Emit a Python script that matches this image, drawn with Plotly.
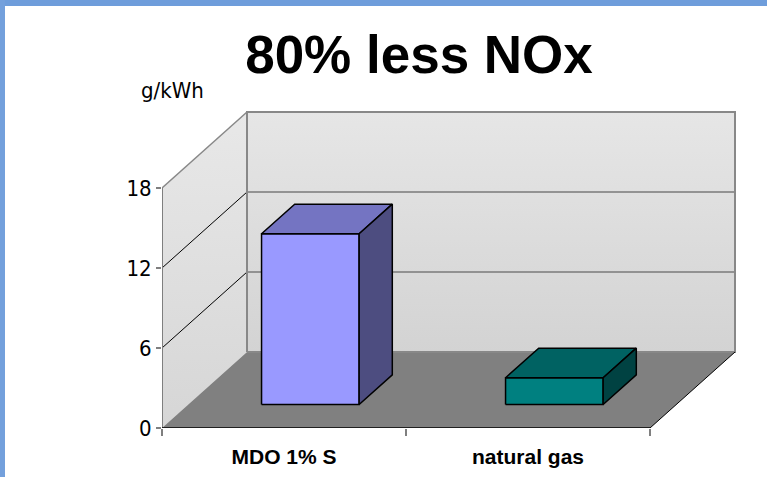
import plotly.graph_objects as go

# --- data -------------------------------------------------------------
categories = ["MDO 1% S", "natural gas"]
nox_g_per_kwh = [12.8, 2.0]
y_ticks = [0, 6, 12, 18]
y_max = 18
unit_label = "g/kWh"
title_text = "80% less NOx"

# --- styling ----------------------------------------------------------
face_colors = [
    {"front": "#9999FF", "top": "#7474C2", "side": "#4D4D80"},
    {"front": "#008080", "top": "#006262", "side": "#004242"},
]
SANS = "Liberation Sans, Arial, sans-serif"
NARROW = "DejaVu Sans Condensed, Liberation Sans, sans-serif"
W, H = 767, 477
M_L, M_R, M_T, M_B = 162, 27, 105, 49
PX_PER_CAT = 244.0          # width of one category band
PX_PER_UNIT = 80.0 / 6.0    # vertical scale
DEPTH_PX = (85.0, 76.0)     # oblique depth offset of the walls

plot_w = W - M_L - M_R
plot_h = H - M_T - M_B
x_range = [0, plot_w / PX_PER_CAT]
y_range = [0, plot_h / PX_PER_UNIT]
DX = DEPTH_PX[0] / PX_PER_CAT
DY = DEPTH_PX[1] / PX_PER_UNIT
n = len(categories)

fig = go.Figure()


def poly(xs, ys, fill=None, line_color="rgba(0,0,0,0)", width=0, gradient=None):
    kw = {}
    if gradient is not None:
        kw["fillgradient"] = gradient
    elif fill is not None:
        kw["fillcolor"] = fill
    fig.add_trace(go.Scatter(
        x=list(xs) + [xs[0]], y=list(ys) + [ys[0]], mode="lines",
        fill="toself" if (fill or gradient) else None,
        line=dict(color=line_color, width=width),
        hoverinfo="skip", showlegend=False, **kw))


def seg(x0, y0, x1, y1, color, width):
    fig.add_trace(go.Scatter(x=[x0, x1], y=[y0, y1], mode="lines",
                             line=dict(color=color, width=width),
                             hoverinfo="skip", showlegend=False))


# back wall
poly([DX, n + DX, n + DX, DX], [DY, DY, y_max + DY, y_max + DY],
     gradient=dict(type="vertical",
                   colorscale=[[0, "#d3d3d3"], [1, "#e6e6e6"]]))
# side wall
poly([0, DX, DX, 0], [0, DY, y_max + DY, y_max],
     gradient=dict(type="vertical",
                   colorscale=[[0, "#d6d6d6"], [1, "#e8e8e8"]]))
# floor
poly([0, n, n + DX, DX], [0, 0, DY, DY], fill="#808080")

# gridlines on both walls
for v in y_ticks[1:-1]:
    seg(DX, v + DY, n + DX, v + DY, "#7a7a7a", 1.5)
    seg(0, v, DX, v + DY, "#000000", 1)

# wall outlines
seg(DX, DY, n + DX, DY, "#bdbdbd", 1.5)
poly([DX, n + DX, n + DX, DX], [DY, DY, y_max + DY, y_max + DY],
     line_color="#888888", width=2)
seg(0, 0, 0, y_max, "#7f7f7f", 2)
seg(0, y_max, DX, y_max + DY, "#888888", 1.5)
seg(n, 0, n + DX, DY, "#000000", 1)
seg(0, 0, n, 0, "#000000", 1.5)

# 3-D columns
half_w = 0.2
f0, f1 = 0.31, 0.70
ddx, ddy = (f1 - f0) * DX, (f1 - f0) * DY
for i, (val, col) in enumerate(zip(nox_g_per_kwh, face_colors)):
    c = i + 0.5
    x0, x1 = c - half_w + f0 * DX, c + half_w + f0 * DX
    yb, yt = f0 * DY, val + f0 * DY
    poly([x0, x1, x1, x0], [yb, yb, yt, yt], fill=col["front"],
         line_color="#000000", width=1.5)
    poly([x0, x1, x1 + ddx, x0 + ddx], [yt, yt, yt + ddy, yt + ddy],
         fill=col["top"], line_color="#000000", width=1.5)
    poly([x1, x1 + ddx, x1 + ddx, x1], [yb, yb + ddy, yt + ddy, yt],
         fill=col["side"], line_color="#000000", width=1.5)

fig.update_layout(
    width=W, height=H,
    margin=dict(l=M_L, r=M_R, t=M_T, b=M_B, autoexpand=False),
    paper_bgcolor="white", plot_bgcolor="white",
    font=dict(family=SANS, color="#000000"),
    title=dict(text=f"<b>{title_text}</b>", x=419 / W, xanchor="center",
               y=1 - 54 / H, yanchor="middle", automargin=False,
               font=dict(size=53, family=SANS)),
    xaxis=dict(range=x_range, showgrid=False, zeroline=False, showline=False,
               automargin=False,
               tickvals=[i + 0.5 for i in range(n)],
               ticktext=[f"<b>{c}</b>" for c in categories],
               ticks="", ticklabelstandoff=14,
               tickfont=dict(size=21, family=SANS),
               minor=dict(tickvals=list(range(n + 1)), ticks="outside",
                          ticklen=7, tickcolor="#7f7f7f", tickwidth=1.5,
                          showgrid=False)),
    yaxis=dict(range=y_range, showgrid=False, zeroline=False, showline=False,
               automargin=False,
               tickvals=y_ticks, ticks="outside", ticklen=5,
               tickcolor="#7f7f7f", tickwidth=1.5,
               tickfont=dict(size=22, family=NARROW)),
    annotations=[dict(text=unit_label, xref="paper", yref="paper",
                      x=(172 - M_L) / plot_w, y=(H - M_B - 91) / plot_h,
                      xanchor="center", yanchor="middle", showarrow=False,
                      font=dict(size=22, family=NARROW))],
    shapes=[
        dict(type="rect", xref="paper", yref="paper", layer="above",
             x0=-M_L / plot_w, x1=(W - M_L) / plot_w,
             y0=(H - M_B - 6) / plot_h, y1=(H - M_B + 5) / plot_h,
             fillcolor="#6e9ddb", line=dict(width=0)),
        dict(type="rect", xref="paper", yref="paper", layer="above",
             x0=(-M_L - 5) / plot_w, x1=(5 - M_L) / plot_w,
             y0=(-M_B - 10) / plot_h, y1=(H - M_B + 5) / plot_h,
             fillcolor="#73a0dc", line=dict(width=0)),
    ],
)

fig.write_html("out.html")
